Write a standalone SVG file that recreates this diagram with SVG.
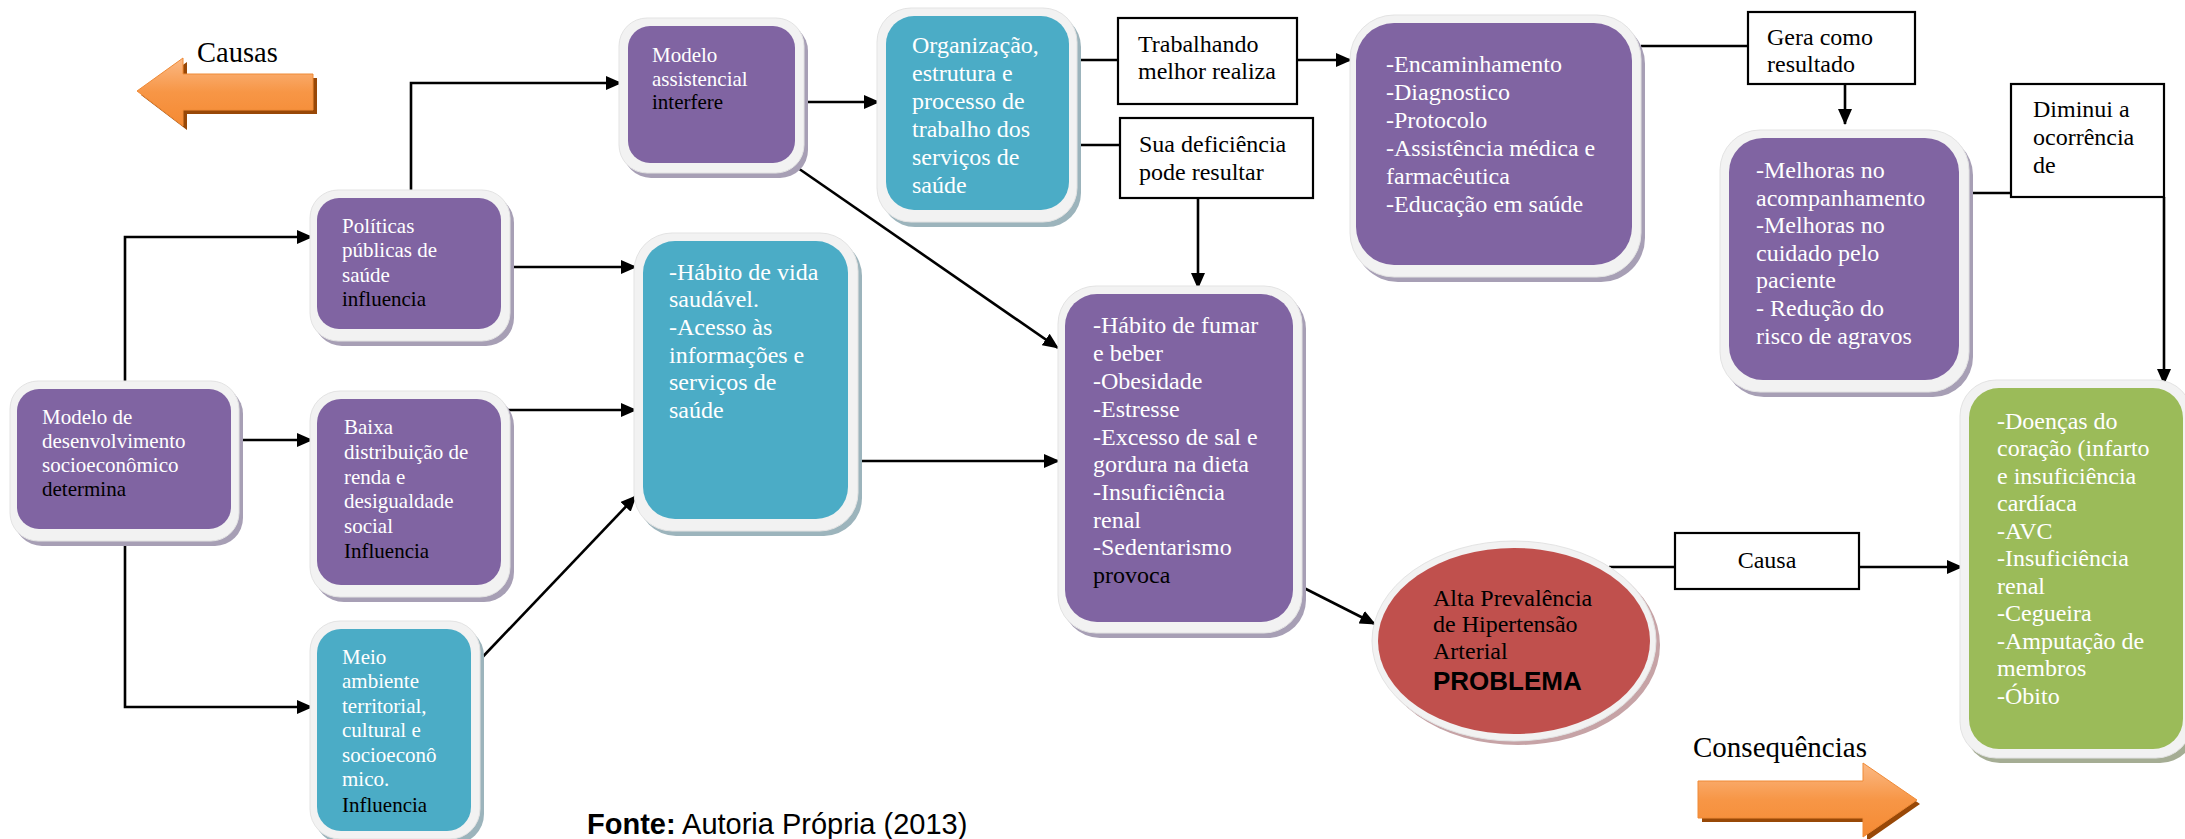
<svg xmlns="http://www.w3.org/2000/svg" width="2185" height="839" viewBox="0 0 2185 839">
<defs>
<style>
.t{font-family:"Liberation Serif","Times New Roman",serif;font-size:21px;fill:#fff}
.t24{font-size:24px}
.k{fill:#000}
.rim{fill:#f2f2f2;stroke:#e3e3e3;stroke-width:1}
.pur{fill:#8064a2}
.tea{fill:#4bacc6}
.grn{fill:#9bbb59}
.sp{fill:#a79fb5}
.st{fill:#9cb4bc}
.sg{fill:#a5ad94}
.lbl{fill:#fff;stroke:#000;stroke-width:2.2}
.lt{font-family:"Liberation Serif","Times New Roman",serif;font-size:24px;fill:#000}
.c{fill:none;stroke:#000;stroke-width:2.6}
.a{marker-end:url(#ah)}
</style>
<marker id="ah" markerUnits="userSpaceOnUse" markerWidth="16" markerHeight="14" refX="15" refY="7" orient="auto">
<path d="M0,0 L16,7 L0,14 z" fill="#000"/>
</marker>
<linearGradient id="og" x1="0" y1="0" x2="0" y2="1">
<stop offset="0" stop-color="#fbb985"/>
<stop offset="0.5" stop-color="#f79646"/>
<stop offset="1" stop-color="#f58a33"/>
</linearGradient>
</defs>
<rect width="2185" height="839" fill="#fff"/>

<g id="connectors">
<path class="c a" d="M125,385 V237 H312"/>
<path class="c a" d="M233,440 H312"/>
<path class="c a" d="M125,523 V707 H312"/>
<path class="c a" d="M411,192 V83 H621"/>
<path class="c a" d="M504,267 H636"/>
<path class="c a" d="M504,410 H636"/>
<path class="c a" d="M474,666 L636,496"/>
<path class="c a" d="M804,102 H879"/>
<path class="c a" d="M795,166 L1058,348"/>
<path class="c" d="M1077,60 H1118"/>
<path class="c a" d="M1297,60 H1351"/>
<path class="c" d="M1077,145 H1120"/>
<path class="c a" d="M1198,198 V288"/>
<path class="c a" d="M858,461 H1059"/>
<path class="c a" d="M1302,587 L1375,624"/>
<path class="c" d="M1609,567 H1675"/>
<path class="c a" d="M1859,567 H1962"/>
<path class="c" d="M1641,46 H1748"/>
<path class="c a" d="M1845,84 V124"/>
<path class="c" d="M1969,193 H2011"/>
<path class="c a" d="M2164,197 V384"/>
</g>

<g id="causas">
<polygon points="141,95 187,62 187,78 317,78 317,114 187,114 187,130" fill="#984807"/>
<polygon points="137,91 183,58 183,74 313,74 313,110 183,110 183,126" fill="url(#og)" stroke="#ef8a36" stroke-width="1"/>
<text x="197" y="62" class="lt" style="font-size:28.5px">Causas</text>
</g>

<g id="consequencias">
<polygon points="1702,785 1867,785 1867,767 1920,804 1867,841 1867,822 1702,822" fill="#984807"/>
<polygon points="1698,781 1863,781 1863,763 1917,800 1863,837 1863,818 1698,818" fill="url(#og)" stroke="#ef8a36" stroke-width="1"/>
<text x="1693" y="757" class="lt" style="font-size:29px">Consequências</text>
</g>

<g id="modelo-desenvolvimento">
<rect class="sp" x="14" y="386" width="229" height="160" rx="28"/>
<rect class="rim" x="10" y="381" width="229" height="160" rx="28"/>
<rect class="pur" x="17" y="389" width="214" height="140" rx="22"/>
<text class="t"><tspan x="42" y="424">Modelo de</tspan><tspan x="42" y="448">desenvolvimento</tspan><tspan x="42" y="472">socioeconômico</tspan><tspan x="42" y="496" class="k">determina</tspan></text>
</g>

<g id="politicas">
<rect class="sp" x="314" y="195" width="200" height="151" rx="28"/>
<rect class="rim" x="310" y="190" width="200" height="151" rx="28"/>
<rect class="pur" x="317" y="198" width="184" height="131" rx="22"/>
<text class="t"><tspan x="342" y="233">Políticas</tspan><tspan x="342" y="257">públicas de</tspan><tspan x="342" y="282">saúde</tspan><tspan x="342" y="306" class="k">influencia</tspan></text>
</g>

<g id="baixa">
<rect class="sp" x="314" y="396" width="200" height="206" rx="30"/>
<rect class="rim" x="310" y="391" width="200" height="206" rx="30"/>
<rect class="pur" x="317" y="399" width="184" height="186" rx="24"/>
<text class="t"><tspan x="344" y="434">Baixa</tspan><tspan x="344" y="459">distribuição de</tspan><tspan x="344" y="484">renda e</tspan><tspan x="344" y="508">desigualdade</tspan><tspan x="344" y="533">social</tspan><tspan x="344" y="558" class="k">Influencia</tspan></text>
</g>

<g id="meio">
<rect class="st" x="314" y="626" width="170" height="218" rx="30"/>
<rect class="rim" x="310" y="621" width="170" height="218" rx="30"/>
<rect class="tea" x="317" y="629" width="154" height="202" rx="24"/>
<text class="t"><tspan x="342" y="664">Meio</tspan><tspan x="342" y="688">ambiente</tspan><tspan x="342" y="713">territorial,</tspan><tspan x="342" y="737">cultural e</tspan><tspan x="342" y="762">socioeconô</tspan><tspan x="342" y="786">mico.</tspan><tspan x="342" y="812" class="k">Influencia</tspan></text>
</g>

<g id="modelo-assistencial">
<rect class="sp" x="623" y="23" width="185" height="155" rx="28"/>
<rect class="rim" x="619" y="18" width="185" height="155" rx="28"/>
<rect class="pur" x="628" y="26" width="167" height="137" rx="22"/>
<text class="t"><tspan x="652" y="62">Modelo</tspan><tspan x="652" y="86">assistencial</tspan><tspan x="652" y="109" class="k">interfere</tspan></text>
</g>

<g id="organizacao">
<rect class="st" x="881" y="13" width="200" height="214" rx="34"/>
<rect class="rim" x="877" y="8" width="200" height="214" rx="34"/>
<rect class="tea" x="886" y="16" width="183" height="194" rx="28"/>
<text class="t t24"><tspan x="912" y="53">Organização,</tspan><tspan x="912" y="81">estrutura e</tspan><tspan x="912" y="109">processo de</tspan><tspan x="912" y="137">trabalho dos</tspan><tspan x="912" y="165">serviços de</tspan><tspan x="912" y="193">saúde</tspan></text>
</g>

<g id="trabalhando">
<rect class="lbl" x="1118" y="18" width="179" height="86"/>
<text class="lt"><tspan x="1138" y="52">Trabalhando</tspan><tspan x="1138" y="79">melhor realiza</tspan></text>
</g>

<g id="sua-deficiencia">
<rect class="lbl" x="1120" y="118" width="193" height="80"/>
<text class="lt"><tspan x="1139" y="152">Sua deficiência</tspan><tspan x="1139" y="180">pode resultar</tspan></text>
</g>

<g id="habito-vida">
<rect class="st" x="638" y="238" width="224" height="298" rx="38"/>
<rect class="rim" x="634" y="233" width="224" height="298" rx="38"/>
<rect class="tea" x="643" y="241" width="205" height="278" rx="32"/>
<text class="t t24"><tspan x="669" y="280">-Hábito de vida</tspan><tspan x="669" y="307">saudável.</tspan><tspan x="669" y="335">-Acesso às</tspan><tspan x="669" y="363">informações e</tspan><tspan x="669" y="390">serviços de</tspan><tspan x="669" y="418">saúde</tspan></text>
</g>

<g id="habito-fumar">
<rect class="sp" x="1062" y="291" width="244" height="347" rx="38"/>
<rect class="rim" x="1058" y="286" width="244" height="347" rx="38"/>
<rect class="pur" x="1065" y="294" width="228" height="328" rx="32"/>
<text class="t t24"><tspan x="1093" y="333">-Hábito de fumar</tspan><tspan x="1093" y="361">e beber</tspan><tspan x="1093" y="389">-Obesidade</tspan><tspan x="1093" y="417">-Estresse</tspan><tspan x="1093" y="445">-Excesso de sal e</tspan><tspan x="1093" y="472">gordura na dieta</tspan><tspan x="1093" y="500">-Insuficiência</tspan><tspan x="1093" y="528">renal</tspan><tspan x="1093" y="555">-Sedentarismo</tspan><tspan x="1093" y="583" class="k">provoca</tspan></text>
</g>

<g id="encaminhamento">
<rect class="sp" x="1354" y="20" width="291" height="262" rx="44"/>
<rect class="rim" x="1350" y="15" width="291" height="262" rx="44"/>
<rect class="pur" x="1356" y="23" width="276" height="242" rx="38"/>
<text class="t t24"><tspan x="1386" y="72">-Encaminhamento</tspan><tspan x="1386" y="100">-Diagnostico</tspan><tspan x="1386" y="128">-Protocolo</tspan><tspan x="1386" y="156">-Assistência médica e</tspan><tspan x="1386" y="184">farmacêutica</tspan><tspan x="1386" y="212">-Educação em saúde</tspan></text>
</g>

<g id="gera">
<rect class="lbl" x="1748" y="12" width="167" height="72"/>
<text class="lt"><tspan x="1767" y="45">Gera como</tspan><tspan x="1767" y="72">resultado</tspan></text>
</g>

<g id="melhoras">
<rect class="sp" x="1724" y="135" width="249" height="262" rx="40"/>
<rect class="rim" x="1720" y="130" width="249" height="262" rx="40"/>
<rect class="pur" x="1729" y="138" width="230" height="242" rx="34"/>
<text class="t t24"><tspan x="1756" y="178">-Melhoras no</tspan><tspan x="1756" y="206">acompanhamento</tspan><tspan x="1756" y="233">-Melhoras no</tspan><tspan x="1756" y="261">cuidado pelo</tspan><tspan x="1756" y="288">paciente</tspan><tspan x="1756" y="316">- Redução do</tspan><tspan x="1756" y="344">risco de agravos</tspan></text>
</g>

<g id="diminui">
<rect class="lbl" x="2011" y="84" width="153" height="113"/>
<text class="lt"><tspan x="2033" y="117">Diminui a</tspan><tspan x="2033" y="145">ocorrência</tspan><tspan x="2033" y="173">de</tspan></text>
</g>

<g id="consequencias-lista">
<rect class="sg" x="1964" y="385" width="232" height="378" rx="36"/>
<rect class="rim" x="1960" y="380" width="232" height="378" rx="36"/>
<rect class="grn" x="1969" y="388" width="214" height="361" rx="30"/>
<text class="t t24"><tspan x="1997" y="429">-Doenças do</tspan><tspan x="1997" y="456">coração (infarto</tspan><tspan x="1997" y="484">e insuficiência</tspan><tspan x="1997" y="511">cardíaca</tspan><tspan x="1997" y="539">-AVC</tspan><tspan x="1997" y="566">-Insuficiência</tspan><tspan x="1997" y="594">renal</tspan><tspan x="1997" y="621">-Cegueira</tspan><tspan x="1997" y="649">-Amputação de</tspan><tspan x="1997" y="676">membros</tspan><tspan x="1997" y="704">-Óbito</tspan></text>
</g>

<g id="problema">
<ellipse cx="1518" cy="645" rx="142" ry="100" fill="#c6a3a6"/>
<ellipse cx="1514" cy="641" rx="142" ry="100" fill="#f2f2f2" stroke="#e3e3e3" stroke-width="1"/>
<ellipse cx="1514" cy="641" rx="136" ry="93" fill="#c0504d"/>
<text class="lt"><tspan x="1433" y="606">Alta Prevalência</tspan><tspan x="1433" y="632">de Hipertensão</tspan><tspan x="1433" y="659">Arterial</tspan></text>
<text x="1433" y="690" style="font-family:'Liberation Sans',Arial,sans-serif;font-weight:bold;font-size:26px;fill:#000">PROBLEMA</text>
</g>

<g id="causa">
<rect class="lbl" x="1675" y="533" width="184" height="56"/>
<text class="lt" x="1767" y="568" text-anchor="middle">Causa</text>
</g>

<text x="587" y="834" style="font-family:'Liberation Sans',Arial,sans-serif;font-size:29px;fill:#000"><tspan font-weight="bold">Fonte:</tspan> Autoria Própria (2013)</text>
</svg>
